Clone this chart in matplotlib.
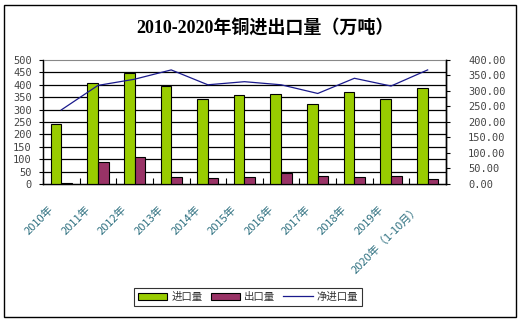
import numpy as np
import matplotlib.pyplot as plt
from matplotlib.patches import Patch, Rectangle
from matplotlib.lines import Line2D
from matplotlib.ticker import FormatStrFormatter

plt.rcParams['font.family'] = ['DejaVu Sans', 'Noto Sans CJK SC']

years = ["2010年", "2011年", "2012年", "2013年", "2014年", "2015年",
         "2016年", "2017年", "2018年", "2019年", "2020年（1-10月）"]
imports = [243, 406, 446, 395, 343, 358, 362, 322, 370, 344, 386]
exports = [5, 88, 109, 28, 24, 28, 46, 32, 28, 32, 20]
net_imports = [239, 318, 338, 368, 320, 330, 320, 292, 341, 316, 368]

GREEN = "#99CC00"
MAROON = "#993366"
NAVY = "#1A1A8C"
NUM_FONT = ['DejaVu Sans Mono']
CJK_FONT = ['Noto Sans CJK SC', 'DejaVu Sans']

fig = plt.figure(figsize=(5.21, 3.22), dpi=100)
fig.patches.append(Rectangle((0.008, 0.015), 0.983, 0.97, transform=fig.transFigure,
                             fill=False, edgecolor="black", linewidth=1.0))

ax = fig.add_axes([0.0825, 0.4286, 0.7735, 0.3851])
x = np.arange(len(years))
w = 0.29

# gridlines every 50 on the left scale
for v in range(50, 500, 50):
    ax.axhline(v, color="black", linewidth=0.9, zorder=1)

ax.bar(x - w / 2, imports, width=w, color=GREEN, edgecolor="black", linewidth=0.8, zorder=3)
ax.bar(x + w / 2, exports, width=w, color=MAROON, edgecolor="black", linewidth=0.8, zorder=3)

ax.set_xlim(-0.5, len(years) - 0.5)
ax.set_ylim(0, 500)
ax.set_yticks(range(0, 501, 50))
for lab in ax.get_yticklabels():
    lab.set_family(NUM_FONT)
ax.tick_params(axis="y", labelsize=7.5, colors="#444444", length=3, width=0.8, pad=5)
ax.tick_params(axis="y", color="black")
ax.set_xticks(np.arange(-0.5, len(years), 1.0))
ax.set_xticklabels([])
ax.tick_params(axis="x", direction="in", length=4, width=0.8)

ax.spines["top"].set_color("#888888")
ax.spines["left"].set_linewidth(1.0)
ax.spines["bottom"].set_linewidth(1.0)
ax.spines["right"].set_linewidth(1.0)

# category labels, rotated 45 degrees
for xi, lab in zip(x, years):
    ax.text(xi - 0.25, -0.19, lab, transform=ax.get_xaxis_transform(),
            rotation=45, rotation_mode="anchor", ha="right", va="center",
            fontsize=8, color="#2E7080", family=CJK_FONT)

ax2 = ax.twinx()
ax2.plot(x, net_imports, color=NAVY, linewidth=0.9, zorder=4)
ax2.set_ylim(0, 400)
ax2.set_yticks(range(0, 401, 50))
ax2.yaxis.set_major_formatter(FormatStrFormatter("%.2f"))
for lab in ax2.get_yticklabels():
    lab.set_family(NUM_FONT)
ax2.tick_params(axis="y", labelsize=7.5, colors="#444444", length=3, width=0.8, pad=13)
ax2.tick_params(axis="y", color="black")
ax2.spines["top"].set_visible(False)
ax2.spines["right"].set_linewidth(1.0)

fig.text(0.508, 0.912, "2010-2020年铜进出口量（万吨）", ha="center", va="center",
         fontsize=13, fontweight="bold", family=['Liberation Serif', 'Noto Sans CJK SC'])

handles = [Patch(facecolor=GREEN, edgecolor="black", linewidth=0.8),
           Patch(facecolor=MAROON, edgecolor="black", linewidth=0.8),
           Line2D([0], [0], color=NAVY, linewidth=0.9)]
leg = fig.legend(handles, ["进口量", "出口量", "净进口量"], loc="center",
                 bbox_to_anchor=(0.476, 0.078), ncol=3, frameon=True, fancybox=False,
                 prop={"family": CJK_FONT, "size": 7.5}, handlelength=2.8,
                 handleheight=0.6, handletextpad=0.4, columnspacing=0.8,
                 borderpad=0.35, edgecolor="black")
leg.get_frame().set_linewidth(0.8)
for t in leg.get_texts():
    t.set_color("#333333")

fig.savefig("out.png", dpi=100)
